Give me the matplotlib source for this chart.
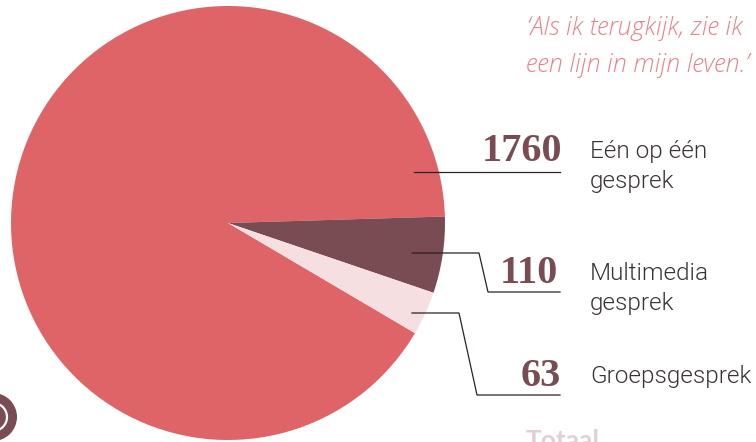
import matplotlib
matplotlib.use("Agg")
import matplotlib.pyplot as plt
from matplotlib.patches import Circle

W, H = 756, 442
categories = ["Eén op één\ngesprek", "Multimedia\ngesprek", "Groepsgesprek"]
values = [1760, 110, 63]
colors = ["#df6468", "#784c52", "#f6dfe0"]
quote = ["‘Als ik terugkijk, zie ik", "een lijn in mijn leven.’"]
total_label = "Totaal"

def Y(py):
    return H - py

fig = plt.figure(figsize=(W / 100, H / 100), dpi=100)
ax = fig.add_axes([0, 0, 1, 1])
ax.set_xlim(0, W)
ax.set_ylim(0, H)
ax.pie(values, colors=colors, center=(228, Y(223)), radius=217, startangle=-30.5,
       counterclock=False, frame=True, wedgeprops=dict(linewidth=0))
ax.set_xlim(0, W)
ax.set_ylim(0, H)
ax.set_aspect("equal")
ax.axis("off")

leaders = [
    ([414, 560], [172, 172]),
    ([412, 479, 488, 560], [253, 253, 292, 292]),
    ([412, 459, 477, 560], [313, 313, 395, 395]),
]
for xs, ys in leaders:
    ax.plot(xs, [Y(v) for v in ys], color="#2a2224", lw=0.9, solid_joinstyle="miter")

num_pos = [(562, 161), (558, 283), (561, 386)]
for v, (x, y) in zip(values, num_pos):
    ax.text(x, Y(y), str(v), ha="right", va="baseline", family="Liberation Serif",
            weight="bold", fontsize=29, color="#784c52")

label_lines = [[("Eén op één", 158), ("gesprek", 188)],
               [("Multimedia", 280), ("gesprek", 310)],
               [("Groepsgesprek", 383)]]
for group in label_lines:
    for s, y in group:
        ax.text(590, Y(y), s, ha="left", va="baseline", family="Roboto", weight=300,
                fontsize=17.5, color="#3a3335")

ax.text(527, Y(35), quote[0], ha="left", va="baseline", family="Open Sans", weight=300,
        style="italic", fontsize=18, color="#ee7f86")
ax.text(526, Y(72), quote[1], ha="left", va="baseline", family="Open Sans", weight=300,
        style="italic", fontsize=18, color="#ee7f86")

ax.text(526, Y(449), total_label, ha="left", va="baseline", family="Lato", weight="bold",
        fontsize=19, color="#e0d0d3")

ax.add_patch(Circle((-7, Y(417)), 24, fc="#784c52", ec="none"))
ax.add_patch(Circle((-7, Y(417)), 14, fc="#784c52", ec="white", lw=1.6))

fig.savefig("out.png", dpi=100)
